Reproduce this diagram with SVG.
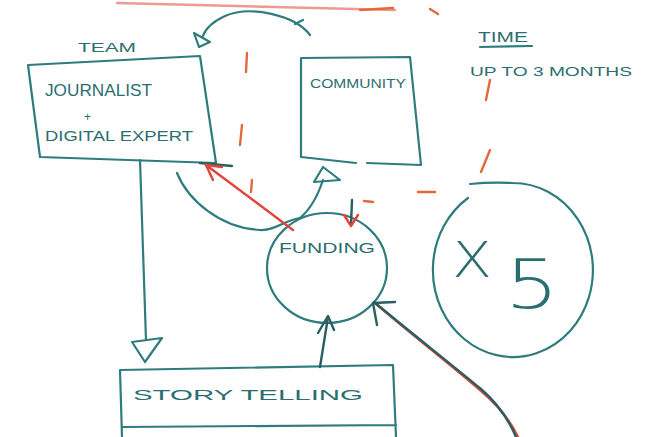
<svg xmlns="http://www.w3.org/2000/svg" width="648" height="437" viewBox="0 0 648 437">
<style>
.ink{fill:none;stroke:#2e7c7d;stroke-width:2.2;stroke-linecap:round;stroke-linejoin:round}
.dark{fill:none;stroke:#2a5f60;stroke-width:2.4;stroke-linecap:round;stroke-linejoin:round}
.red{fill:none;stroke:#e0453c;stroke-width:2.4;stroke-linecap:round;stroke-linejoin:round}
.dash{fill:none;stroke:#e06a3c;stroke-width:2.4;stroke-linecap:round}
.t{font-family:"Liberation Sans","DejaVu Sans",sans-serif;fill:#2b6e70;font-weight:normal}
.thin{font-family:"DejaVu Sans","Liberation Sans",sans-serif;fill:#2b6e70;font-weight:200}
</style>
<rect width="648" height="437" fill="#ffffff"/>

<g id="boundary">
<path class="red" d="M117 3 L395 10" stroke-width="1.5" opacity="0.55"/>
<path class="dash" d="M360 10 L393 8"/>
<path class="dash" d="M430 9 L438 14"/>
<path class="dash" d="M247 53 L246 72"/>
<path class="dash" d="M242 125 L240 145"/>
<path class="dash" d="M252 180 L251 192"/>
<path class="dash" d="M364 201 L373 202"/>
<path class="dash" d="M418 192 L435 192"/>
<path class="dash" d="M490 80 L486 100"/>
<path class="dash" d="M490 150 L481 172"/>
</g>

<g id="team">
<text class="t" x="78" y="52" font-size="13" textLength="58" lengthAdjust="spacingAndGlyphs">TEAM</text>
</g>

<g id="journalist">
<path class="ink" d="M28 65 L200 56 L216 163 L40 157 Z"/>
<path class="dark" d="M200 163 L232 166"/>
<text class="t" x="45" y="96" font-size="17" textLength="107" lengthAdjust="spacingAndGlyphs">JOURNALIST</text>
<text class="t" x="84" y="121" font-size="12">+</text>
<text class="t" x="45" y="141" font-size="15" textLength="148" lengthAdjust="spacingAndGlyphs">DIGITAL EXPERT</text>
</g>

<g id="community">
<path class="ink" d="M301 58 L410 57 L421 165 L367 163 M356 163 L301 157 L301 58"/>
<text class="t" x="310" y="88" font-size="13" textLength="96" lengthAdjust="spacingAndGlyphs">COMMUNITY</text>
</g>

<g id="time">
<text class="t" x="478" y="42" font-size="15" textLength="50" lengthAdjust="spacingAndGlyphs">TIME</text>
<path class="ink" d="M480 47 L532 46"/>
<text class="t" x="470" y="76" font-size="13" textLength="162" lengthAdjust="spacingAndGlyphs">UP TO 3 MONTHS</text>
</g>

<g id="funding">
<ellipse class="ink" cx="327" cy="268" rx="60" ry="55"/>
<text class="t" x="279" y="253" font-size="15" textLength="96" lengthAdjust="spacingAndGlyphs">FUNDING</text>
</g>

<g id="x5">
<path class="ink" d="M470 184 Q490 182 513 183 A80 87 0 1 1 468 198"/>
<text class="thin" x="452" y="277" font-size="50" textLength="40" lengthAdjust="spacingAndGlyphs">X</text>
<text class="thin" x="505" y="308" font-size="68" textLength="54" lengthAdjust="spacingAndGlyphs">5</text>
</g>

<g id="storytelling">
<path class="ink" d="M122 437 L120 370 L393 365 L396 437 M122 427 L396 425"/>
<text class="t" x="133" y="400" font-size="15" textLength="230" lengthAdjust="spacingAndGlyphs">STORY   TELLING</text>
</g>

<g id="connectors">
<path class="ink" d="M310 35 C295 15 250 5 225 16 C212 22 205 30 203 36"/>
<path class="ink" d="M194 33 L210 42 L199 47 Z"/>
<path class="ink" d="M295 24 L303 20"/>
<path class="ink" d="M140 160 L146 340"/>
<path class="ink" d="M132 342 L162 338 L145 362 Z"/>
<path class="ink" d="M177 173 C188 200 220 228 260 230 C275 231 285 220 300 218"/>
<path class="ink" d="M300 218 C312 208 318 195 323 180"/>
<path class="ink" d="M314 182 L323 167 L340 180 Z"/>
<path class="red" d="M293 230 L206 165" stroke-width="3"/>
<path class="red" d="M206 165 L213 180 M206 165 L222 167"/>
<path class="dark" d="M352 200 L351 225"/>
<path class="red" d="M344 215 L351 226 L358 215"/>
<path class="dark" d="M320 367 L328 317"/>
<path class="dark" d="M318 333 L328 316 L334 330"/>
<path class="red" d="M375 303 C410 333 445 360 480 390 C498 405 510 420 518 437" stroke-width="1.4"/>
<path class="dark" d="M374 302 C410 332 446 360 481 389 C498 404 509 420 516 437" stroke-width="2"/>
<path class="dark" d="M373 303 L395 302 M373 303 L377 325"/>
</g>
</svg>
